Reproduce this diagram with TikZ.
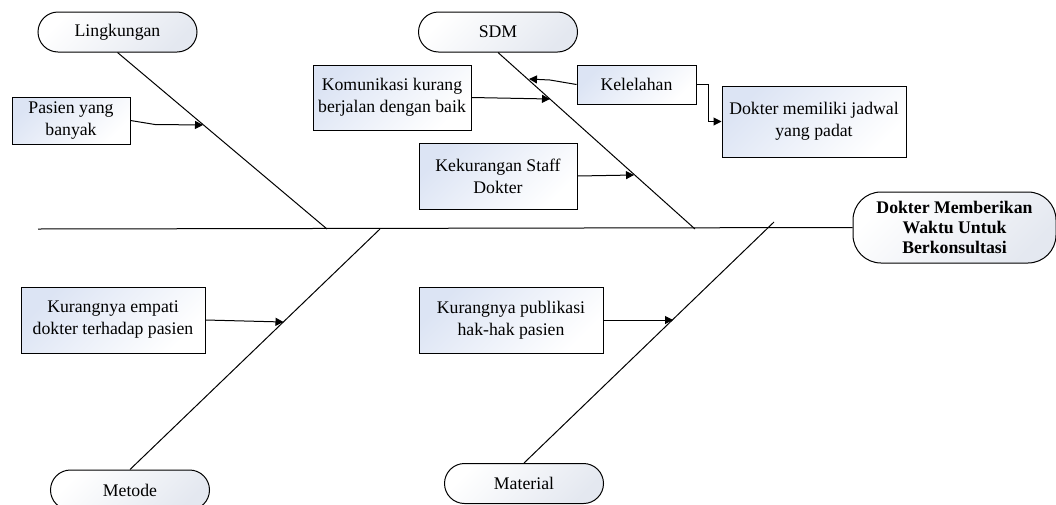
\documentclass[tikz,border=0pt]{standalone}
\usepackage{fontspec}
\setmainfont{Liberation Serif}
\usetikzlibrary{arrows.meta}
\definecolor{boxtint}{HTML}{DCE4F4}
\definecolor{pilltint}{HTML}{E4E8F0}
\tikzset{
  every picture/.style={line width=0.75pt},
  txt/.style={font=\fontsize{13.3}{16.5}\selectfont, align=center, inner sep=0pt},
  causebox/.style={txt, draw, rectangle, top color=boxtint, bottom color=white, shading angle=45},
  pill/.style={txt, draw, rectangle, rounded corners=15pt, minimum width=119.25pt, minimum height=30pt,
    top color=white, bottom color=pilltint, shading angle=45},
  headpill/.style={draw, rectangle, rounded corners=21pt, align=center, inner sep=0pt,
    font=\fontsize{13.3}{15}\selectfont\bfseries, minimum width=152.25pt, minimum height=53.25pt,
    top color=white, bottom color=pilltint, shading angle=45},
  bone/.style={line width=0.75pt},
  arr/.style={-{Triangle[length=6pt,width=6pt]}, line width=0.75pt},
}
\begin{document}
\begin{tikzpicture}[x=0.75pt, y=-0.75pt]
\clip (0,0) rectangle (1056,504);
\fill[white] (0,0) rectangle (1056,504);

% category heads
\node[pill] (lingk) at (117.5,32) {Lingkungan};
\node[pill] (sdm) at (498,32) {SDM};
\node[pill] (metode) at (130,490) {Metode};
\node[pill] (material) at (524,483.5) {Material};
\node[headpill] (effect) at (954.5,227.5) {Dokter Memberikan\\Waktu Untuk\\Berkonsultasi};

% spine and bones
\coordinate (spinestart) at (38,229);
\coordinate (lingkend) at (327,229);
\coordinate (sdmend) at (695,229);
\coordinate (metodeend) at (380,229);
\coordinate (materialend) at (774,222);
\draw[bone] (spinestart) -- (effect.west);
\draw[bone] (lingk.south) -- (lingkend);
\draw[bone] (sdm.south) -- (sdmend);
\draw[bone] (metode.north) -- (metodeend);
\draw[bone] (material.north) -- (materialend);

% causes
\node[causebox, minimum width=88.5pt, minimum height=35.25pt] (pasien) at (71,120.5) {Pasien yang\\banyak};
\node[causebox, minimum width=118.5pt, minimum height=48.75pt] (komunikasi) at (392,97.5) {Komunikasi kurang\\berjalan dengan baik};
\node[causebox, minimum width=118.5pt, minimum height=49.5pt] (staff) at (498,176) {Kekurangan Staff\\Dokter};
\node[causebox, minimum width=89.25pt, minimum height=29.25pt] (lelah) at (636.5,84.5) {Kelelahan};
\node[causebox, minimum width=138pt, minimum height=53.25pt] (jadwal) at (814,121.5) {Dokter memiliki jadwal\\yang padat};
\node[causebox, minimum width=138pt, minimum height=49.5pt] (empati) at (113,320) {Kurangnya empati\\dokter terhadap pasien};
\node[causebox, minimum width=138pt, minimum height=49.5pt] (publikasi) at (511,320) {Kurangnya publikasi\\hak-hak pasien};

% arrow targets on the bones
\coordinate (tpasien) at (203,125);
\coordinate (tkom) at (550,99);
\coordinate (tstaff) at (634,175);
\coordinate (tlelah) at (529,79);
\coordinate (tempati) at (283.5,322);
\coordinate (tpub) at (673,320);

\draw[arr] (pasien.east) -- (155,124.5) -- (tpasien);
\draw[arr] (komunikasi.east) -- (tkom);
\draw[arr] (staff.east) -- (tstaff);
\draw[arr] (lelah.west) -- (550,80) -- (tlelah);
\draw[arr] (lelah.east) -- (708,84.5) |- (jadwal.west);
\draw[arr] (empati.east) -- (tempati);
\draw[arr] (publikasi.east) -- (tpub);
\end{tikzpicture}
\end{document}
